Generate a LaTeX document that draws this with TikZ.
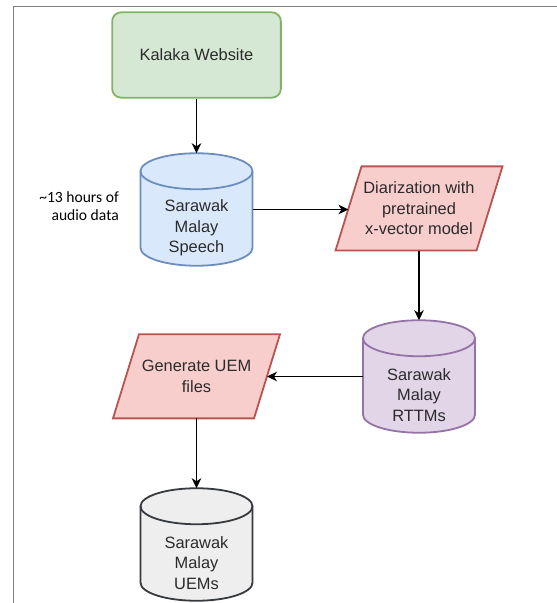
\documentclass[tikz,border=0pt]{standalone}
\usepackage{fontspec}
\setmainfont{Liberation Sans}
\newfontfamily\calibrifont{Carlito}
\usetikzlibrary{arrows.meta,calc,backgrounds}
\definecolor{greenfill}{HTML}{D5E8D4}
\definecolor{greenline}{HTML}{82B366}
\definecolor{bluefill}{HTML}{DAE8FC}
\definecolor{blueline}{HTML}{6C8EBF}
\definecolor{pinkfill}{HTML}{F8CECC}
\definecolor{pinkline}{HTML}{B85450}
\definecolor{purplefill}{HTML}{E1D5E7}
\definecolor{purpleline}{HTML}{9673A6}
\definecolor{grayfill}{HTML}{EEEEEE}
\definecolor{grayline}{HTML}{36393D}
\definecolor{framegray}{HTML}{808080}
\definecolor{txtgray}{HTML}{2B2B2B}
\tikzset{
  lbl/.style={text=txtgray, font=\fontsize{16.4}{20.5}\selectfont, align=center, inner sep=0pt},
  cylbox/.style={minimum width=112pt, minimum height=112.5pt, inner sep=0pt, outer sep=0pt},
  parabox/.style={lbl, minimum width=141pt, minimum height=84.2pt, outer sep=0pt},
  webbox/.style={lbl, draw=greenline, fill=greenfill, line width=1.8pt, rounded corners=9pt,
    minimum width=168.7pt, minimum height=85.4pt},
  arr/.style={-{Stealth[length=10pt,width=9.5pt,inset=3pt]}, line width=1.6pt, draw=black},
  shapeline/.style={line width=1.8pt}
}
\newcommand\cylbody[3]{%
  \begin{scope}[on background layer]
  \path[fill=#2, draw=#3, shapeline]
    ($(#1.north west)+(0,-18)$) -- ($(#1.south west)+(0,18)$)
    arc[start angle=180, end angle=360, x radius=56pt, y radius=18pt]
    -- ($(#1.north east)+(0,-18)$)
    arc[start angle=0, end angle=180, x radius=56pt, y radius=18pt] -- cycle;
  \draw[#3, shapeline] ($(#1.north west)+(0,-18)$)
    arc[start angle=180, end angle=360, x radius=56pt, y radius=18pt];
  \end{scope}}
\newcommand\parabody[1]{%
  \begin{scope}[on background layer]
  \path[fill=pinkfill, draw=pinkline, shapeline]
    ($(#1.south west)+(-13,0)$) -- ($(#1.north west)+(13,0)$) --
    ($(#1.north east)+(13,0)$) -- ($(#1.south east)+(-13,0)$) -- cycle;
  \end{scope}}
\begin{document}
\begin{tikzpicture}[x=1pt,y=1pt]
\useasboundingbox (0,0) rectangle (557,603);
\draw[framegray, line width=1.6pt] (13.3,0) -- (13.3,596.3) -- (557,596.3);

% nodes
\node[webbox] (web) at (196.5,548) {Kalaka Website};

\node[cylbox] (speech) at (196.5,393.5) {};
\cylbody{speech}{bluefill}{blueline}
\node[lbl] (speechtxt) at ($(speech.center)+(0,-18.5)$) {Sarawak\\Malay\\Speech};

\node[anchor=east, inner sep=0pt, align=right, text=black,
      font=\calibrifont\fontsize{15.6}{17.7}\selectfont] (hours) at (119,397)
      {\textasciitilde13 hours of\\audio data};

\node[parabox] (diar) at (419,394.5) {Diarization with\\pretrained\\x-vector model};
\parabody{diar}

\node[cylbox] (rttm) at (419,226.5) {};
\cylbody{rttm}{purplefill}{purpleline}
\node[lbl] (rttmtxt) at ($(rttm.center)+(0,-18.5)$) {Sarawak\\Malay\\RTTMs};

\node[parabox] (uemgen) at (196.5,226.7) {Generate UEM\\files};
\parabody{uemgen}

\node[cylbox] (uem) at (196.5,58.5) {};
\cylbody{uem}{grayfill}{grayline}
\node[lbl] (uemtxt) at ($(uem.center)+(0,-18.5)$) {Sarawak\\Malay\\UEMs};

% connectors
\draw[arr] (web.south) -- (speech.north);
\draw[arr] (speech.east) -- (speech.east -| diar.west);
\draw[arr] (diar.south) -- (rttm.north);
\draw[arr] (rttm.west) -- (rttm.west -| uemgen.east);
\draw[arr] (uemgen.south) -- (uem.north);
\end{tikzpicture}
\end{document}
